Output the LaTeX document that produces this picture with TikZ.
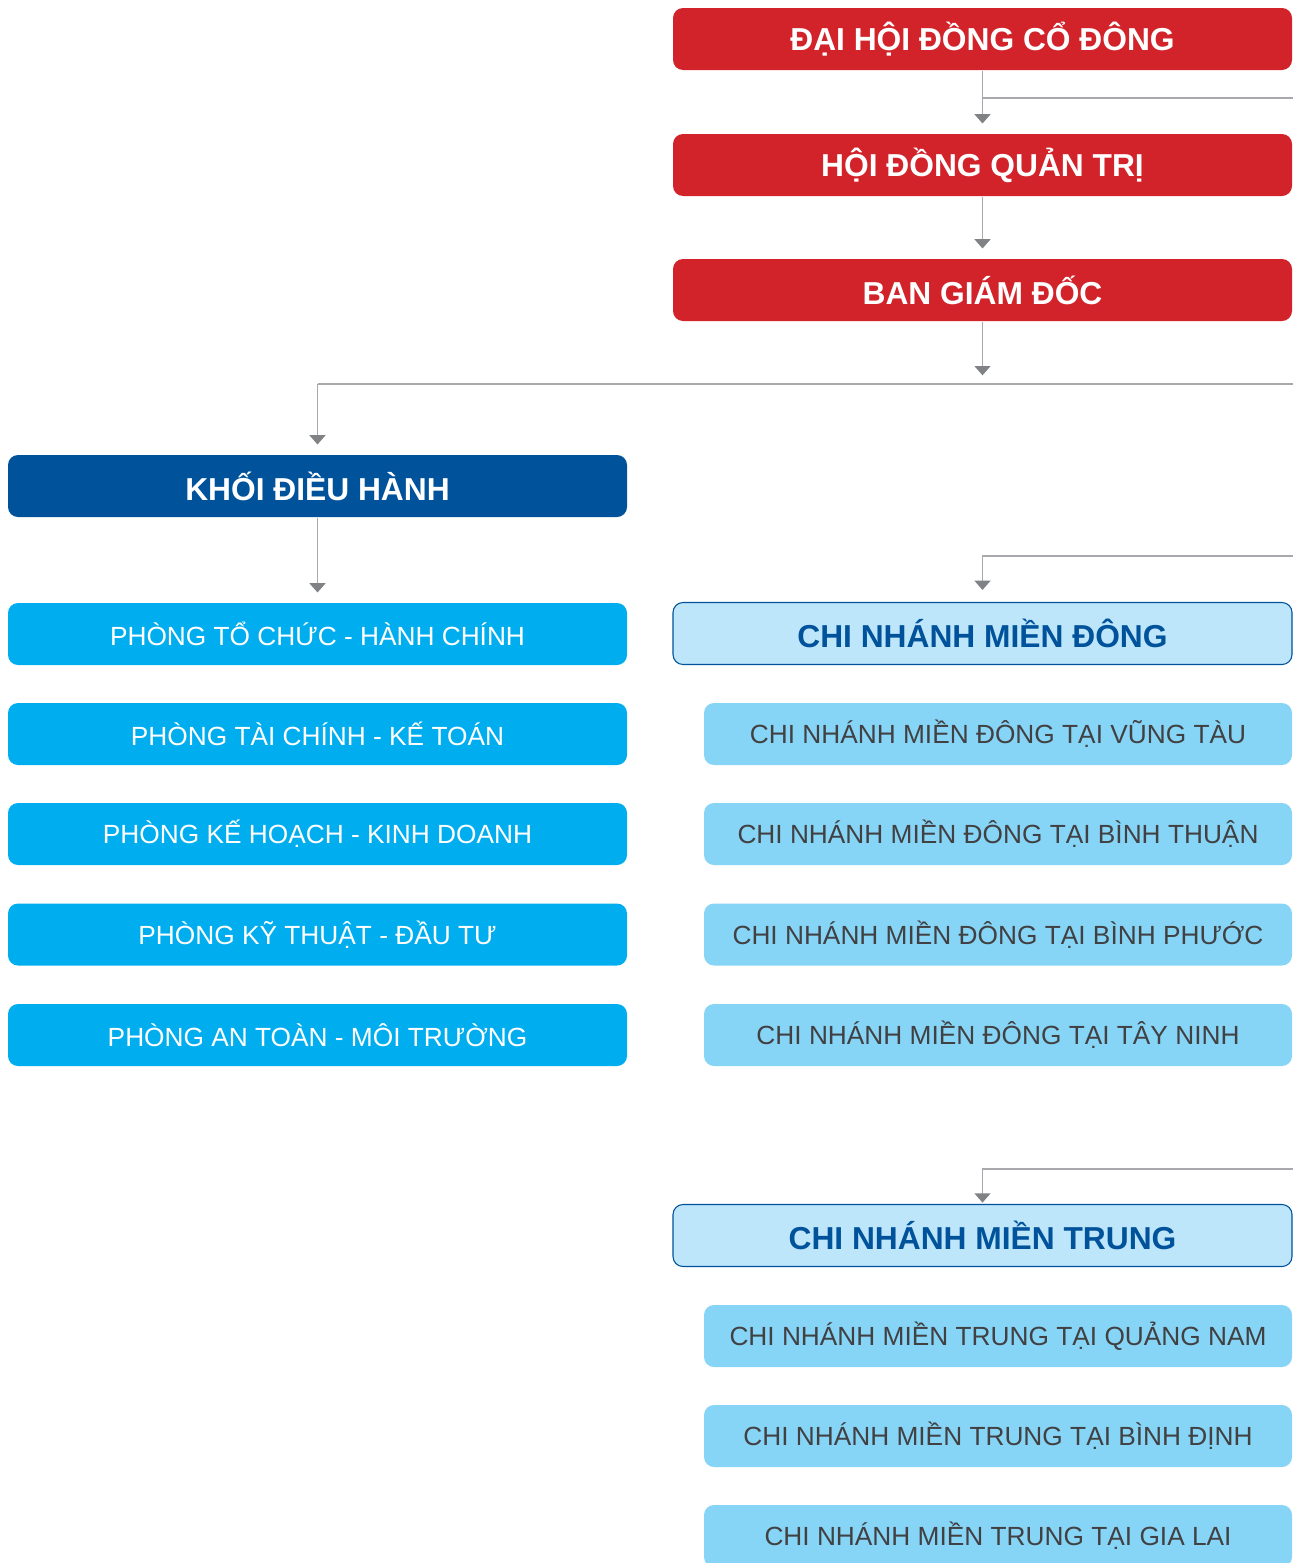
\documentclass[tikz,border=0pt]{standalone}
\usepackage{fontspec}
\setmainfont{Liberation Sans}
\usetikzlibrary{arrows.meta}

\definecolor{hdred}{HTML}{D2232A}
\definecolor{khoiblue}{HTML}{00529B}
\definecolor{phongcyan}{HTML}{00AEEF}
\definecolor{cnpale}{HTML}{BDE6FA}
\definecolor{cnsub}{HTML}{87D5F6}
\definecolor{subtext}{HTML}{414042}
\definecolor{lineg}{HTML}{A7A9AC}
\definecolor{tipg}{HTML}{808285}

\tikzset{every picture/.style={line width=0.75pt}}
\tikzset{
  box/.style={rounded corners=7.5pt, inner sep=0pt, minimum width=464.25pt, minimum height=46.5pt, align=center},
  bigbox/.style={box, fill=hdred, text=white, font=\bfseries\fontsize{23.8}{28}\selectfont},
  khoibox/.style={box, fill=khoiblue, text=white, font=\bfseries\fontsize{23.8}{28}\selectfont},
  phongbox/.style={box, fill=phongcyan, text=white, font=\fontsize{19.7}{24}\selectfont},
  cnbox/.style={box, fill=cnpale, draw=khoiblue, line width=0.8pt, text=khoiblue, font=\bfseries\fontsize{23.8}{28}\selectfont},
  cnsubbox/.style={box, minimum width=441pt, fill=cnsub, text=subtext, font=\fontsize{19.7}{24}\selectfont},
  wire/.style={draw=lineg, line width=1.1pt},
  conn/.style={wire, -{Triangle[width=12pt,length=7pt,color=tipg]}},
}

\begin{document}
\begin{tikzpicture}[x=0.75pt,y=0.75pt,yscale=-1,xscale=1]
\useasboundingbox (0,0) rectangle (1293,1563);
\clip (0,0) rectangle (1293,1563);

% Top boards
\node [bigbox] (dhcd) at (982.5,39) {ĐẠI HỘI ĐỒNG CỔ ĐÔNG};
\node [bigbox] (hdqt) at (982.5,165) {HỘI ĐỒNG QUẢN TRỊ};
\node [bigbox] (bgd) at (982.5,290) {BAN GIÁM ĐỐC};

% Khoi dieu hanh
\node [khoibox] (kdh) at (317.5,486) {KHỐI ĐIỀU HÀNH};
\node [phongbox] (ptc) at (317.5,634) {PHÒNG TỔ CHỨC - HÀNH CHÍNH};
\node [phongbox] (ptckt) at (317.5,734) {PHÒNG TÀI CHÍNH - KẾ TOÁN};
\node [phongbox] (pkhkd) at (317.5,834) {PHÒNG KẾ HOẠCH - KINH DOANH};
\node [phongbox] (pktdt) at (317.5,934.5) {PHÒNG KỸ THUẬT - ĐẦU TƯ};
\node [phongbox] (patmt) at (317.5,1035) {PHÒNG AN TOÀN - MÔI TRƯỜNG};

% Chi nhanh mien dong
\node [cnbox] (mdong) at (982.5,633.5) {CHI NHÁNH MIỀN ĐÔNG};
\node [cnsubbox] (vtau) at (998,734) {CHI NHÁNH MIỀN ĐÔNG TẠI VŨNG TÀU};
\node [cnsubbox] (bthuan) at (998,834) {CHI NHÁNH MIỀN ĐÔNG TẠI BÌNH THUẬN};
\node [cnsubbox] (bphuoc) at (998,934.5) {CHI NHÁNH MIỀN ĐÔNG TẠI BÌNH PHƯỚC};
\node [cnsubbox] (tninh) at (998,1035) {CHI NHÁNH MIỀN ĐÔNG TẠI TÂY NINH};

% Chi nhanh mien trung
\node [cnbox] (mtrung) at (982.5,1235.5) {CHI NHÁNH MIỀN TRUNG};
\node [cnsubbox] (qnam) at (998,1336) {CHI NHÁNH MIỀN TRUNG TẠI QUẢNG NAM};
\node [cnsubbox] (bdinh) at (998,1436) {CHI NHÁNH MIỀN TRUNG TẠI BÌNH ĐỊNH};
\node [cnsubbox] (glai) at (998,1536) {CHI NHÁNH MIỀN TRUNG TẠI GIA LAI};

% free ends at the right edge
\coordinate (edgea) at (1293,98);
\coordinate (split) at (982.5,384);
\coordinate (edgeb) at (1293,384);
\coordinate (edgec) at (1293,556);
\coordinate (edged) at (1293,1169);

% Connectors
\draw [conn, shorten >=7.5pt] (dhcd.south) -- (hdqt.north);
\draw [wire] (dhcd.south |- edgea) -- (edgea);
\draw [conn, shorten >=7.5pt] (hdqt.south) -- (bgd.north);
\draw [conn, shorten >=6.5pt] (bgd.south) -- (split);
\draw [wire] (kdh.north |- edgeb) -- (edgeb);
\draw [conn, shorten >=7.5pt] (kdh.north |- edgeb) -- (kdh.north);
\draw [conn, shorten >=7.5pt] (kdh.south) -- (ptc.north);
\draw [conn, shorten >=9pt] (edgec) -| (mdong.north);
\draw [conn, shorten >=1pt] (edged) -| (mtrung.north);

\end{tikzpicture}
\end{document}
